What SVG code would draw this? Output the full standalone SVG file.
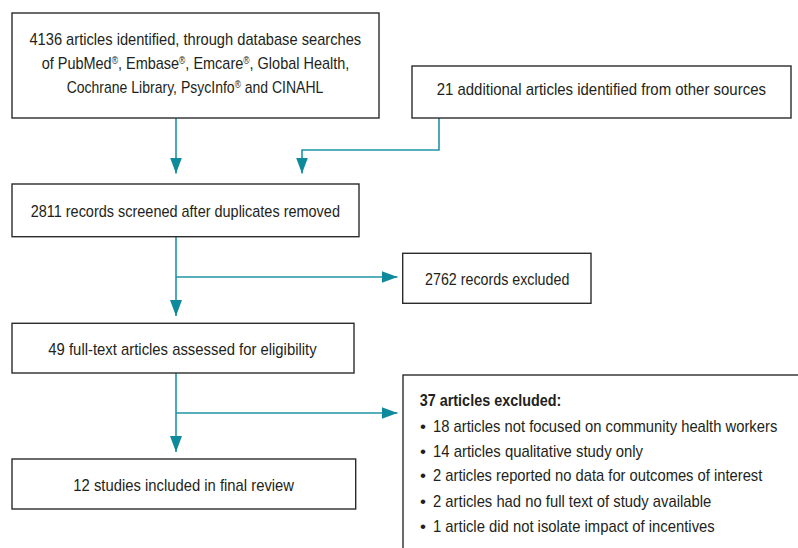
<svg xmlns="http://www.w3.org/2000/svg" width="798" height="548" viewBox="0 0 798 548">
  <style>
    .box { fill: #ffffff; stroke: #2b2b2b; stroke-width: 1.4; }
    .t { font-family: "Liberation Sans Narrow", "Liberation Sans", Arial, sans-serif; font-size: 17px; fill: #231f20; }
    .c { text-anchor: middle; }
    .b { font-weight: bold; }
    .sup { font-size: 10px; baseline-shift: super; }
    .conn { fill: none; stroke: #1f95a6; stroke-width: 1.6; }
  </style>
  <defs>
    <marker id="ah" markerUnits="userSpaceOnUse" markerWidth="16" markerHeight="12" refX="16" refY="6" orient="auto">
      <path d="M0,0 L16,6 L0,12 Z" fill="#0f8a9b"/>
    </marker>
  </defs>
  <rect x="0" y="0" width="798" height="548" fill="#ffffff"/>

  <g id="connectors">
    <path class="conn" d="M176,118 V173.5" marker-end="url(#ah)"/>
    <path class="conn" d="M439,118 V150 H302 V173.5" marker-end="url(#ah)"/>
    <path class="conn" d="M176,237 V316" marker-end="url(#ah)"/>
    <path class="conn" d="M176,277 H397.5" marker-end="url(#ah)"/>
    <path class="conn" d="M176,373 V452" marker-end="url(#ah)"/>
    <path class="conn" d="M176,413 H397.5" marker-end="url(#ah)"/>
  </g>

  <g id="identified">
    <rect class="box" x="12" y="13" width="367" height="105"/>
    <text class="t c" x="195.3" y="45" textLength="331.7" lengthAdjust="spacingAndGlyphs">4136 articles identified, through database searches</text>
    <text class="t c" x="195.5" y="69" textLength="307.7" lengthAdjust="spacingAndGlyphs">of PubMed<tspan class="sup">®</tspan>, Embase<tspan class="sup">®</tspan>, Emcare<tspan class="sup">®</tspan>, Global Health,</text>
    <text class="t c" x="195" y="92.5" textLength="256.7" lengthAdjust="spacingAndGlyphs">Cochrane Library, PsycInfo<tspan class="sup">®</tspan> and CINAHL</text>
  </g>

  <g id="additional">
    <rect class="box" x="412" y="66" width="379" height="52"/>
    <text class="t c" x="601.3" y="95" textLength="329.3" lengthAdjust="spacingAndGlyphs">21 additional articles identified from other sources</text>
  </g>

  <g id="screened">
    <rect class="box" x="12" y="184" width="347" height="52.7"/>
    <text class="t c" x="185.3" y="216.7" textLength="309.3" lengthAdjust="spacingAndGlyphs">2811 records screened after duplicates removed</text>
  </g>

  <g id="records-excluded">
    <rect class="box" x="402.7" y="253.3" width="188.3" height="50"/>
    <text class="t c" x="497.2" y="285" textLength="144.3" lengthAdjust="spacingAndGlyphs">2762 records excluded</text>
  </g>

  <g id="fulltext">
    <rect class="box" x="12" y="323.3" width="342" height="49.7"/>
    <text class="t c" x="182.5" y="354.7" textLength="268.3" lengthAdjust="spacingAndGlyphs">49 full-text articles assessed for eligibility</text>
  </g>

  <g id="included">
    <rect class="box" x="12" y="459" width="343.7" height="50"/>
    <text class="t c" x="183.7" y="491" textLength="220.7" lengthAdjust="spacingAndGlyphs">12 studies included in final review</text>
  </g>

  <g id="articles-excluded">
    <rect class="box" x="403" y="375" width="420" height="200"/>
    <text class="t b" x="419.7" y="405.7" textLength="141.7" lengthAdjust="spacingAndGlyphs">37 articles excluded:</text>
    <text class="t" x="420" y="432">•</text>
    <text class="t" x="433" y="432" textLength="344.3" lengthAdjust="spacingAndGlyphs">18 articles not focused on community health workers</text>
    <text class="t" x="420" y="456.7">•</text>
    <text class="t" x="433" y="456.7" textLength="210" lengthAdjust="spacingAndGlyphs">14 articles qualitative study only</text>
    <text class="t" x="420" y="481">•</text>
    <text class="t" x="433" y="481" textLength="329.3" lengthAdjust="spacingAndGlyphs">2 articles reported no data for outcomes of interest</text>
    <text class="t" x="420" y="506.7">•</text>
    <text class="t" x="433" y="506.7" textLength="278.3" lengthAdjust="spacingAndGlyphs">2 articles had no full text of study available</text>
    <text class="t" x="420" y="532">•</text>
    <text class="t" x="433" y="532" textLength="281.7" lengthAdjust="spacingAndGlyphs">1 article did not isolate impact of incentives</text>
  </g>
</svg>
